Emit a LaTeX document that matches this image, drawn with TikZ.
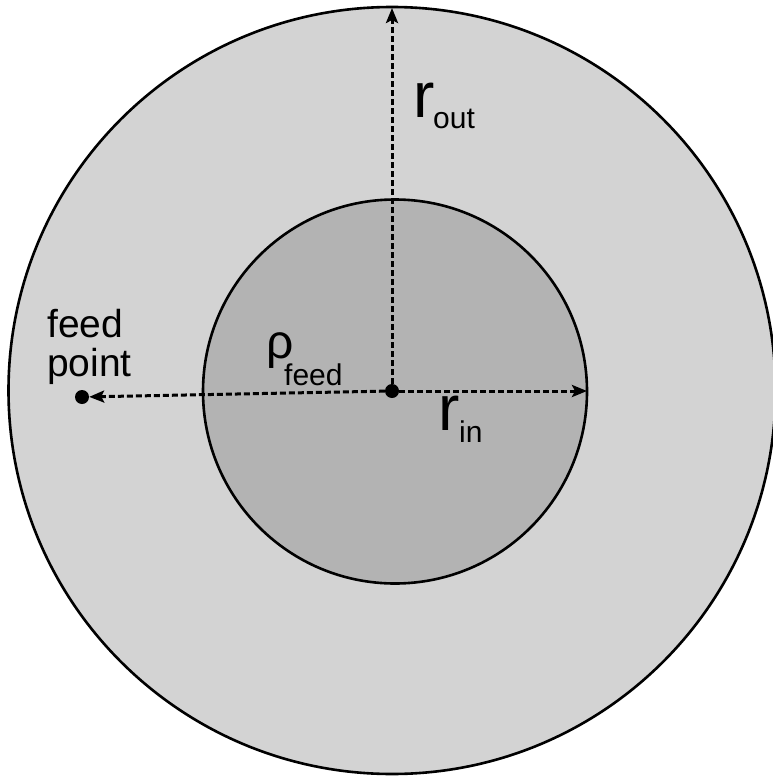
\documentclass[tikz,border=0pt]{standalone}
\usepackage{fontspec}
\setmainfont{Liberation Sans}
\usetikzlibrary{arrows.meta}
\definecolor{outergray}{RGB}{211,211,211}
\definecolor{innergray}{RGB}{179,179,179}
\begin{document}
\begin{tikzpicture}[x=1pt,y=-1pt,
  pointdot/.style={circle, fill=black, minimum size=14pt, inner sep=0pt},
  dimline/.style={line width=3pt, dash pattern=on 6pt off 3pt, -{Stealth[length=15pt,width=12pt,inset=3pt]}},
  bigsym/.style={inner sep=0pt, anchor=base west, font=\fontsize{64}{64}\selectfont},
  subsym/.style={inner sep=0pt, anchor=base west, font=\fontsize{30}{30}\selectfont}]
\useasboundingbox (0,0) rectangle (773,776);
\fill[white] (0,0) rectangle (773,776);
\filldraw[fill=outergray, line width=2.6pt] (392,390.5) circle[radius=383.5];
\filldraw[fill=innergray, line width=2.6pt] (395,391.5) circle[radius=192];

\node[pointdot] (ctr) at (392,391) {};
\node[pointdot] (feed) at (82,397) {};
\coordinate (top) at (392,8);
\coordinate (rim) at (587,391);

\draw[dimline] (ctr) -- (top);
\draw[dimline] (ctr) -- (rim);
\draw[dimline] (ctr) -- (feed);

\node[bigsym] (rout) at (413,117) {r};
\node[subsym] (routsub) at (433,128) {out};
\node[bigsym] (rin) at (438,430) {r};
\node[subsym] (rinsub) at (459,442) {in};
\node[bigsym, font=\fontsize{48}{48}\selectfont] (rho) at (266,358) {ρ};
\node[subsym] (rhosub) at (284,385) {feed};
\node[align=left, inner sep=0pt, anchor=base west, font=\fontsize{39}{39}\selectfont] (fplabel) at (47,376) {feed\\point};
\end{tikzpicture}
\end{document}
